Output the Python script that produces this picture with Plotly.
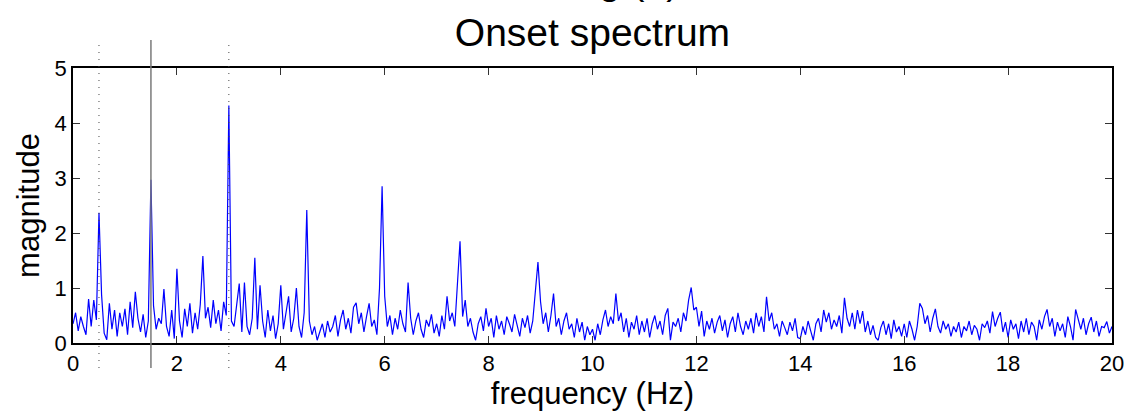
import plotly.graph_objects as go

# ---- data ----
freq_step = 0.05
magnitude = [
    # 0.00 - 0.95 Hz
    0.35, 0.55, 0.22, 0.48, 0.30, 0.15, 0.80, 0.30, 0.78, 0.42, 2.37, 0.88, 0.18, 0.06, 0.72, 0.25, 0.60, 0.12, 0.55, 0.30,
    # 1.00 - 1.95
    0.62, 0.15, 0.75, 0.28, 0.93, 0.45, 0.20, 0.52, 0.10, 0.40, 2.97, 0.68, 0.25, 0.45, 0.35, 0.98, 0.30, 0.12, 0.60, 0.08,
    # 2.00 - 2.95
    1.35, 0.40, 0.10, 0.62, 0.30, 0.72, 0.18, 0.55, 0.25, 0.70, 1.58, 0.45, 0.65, 0.28, 0.78, 0.35, 0.60, 0.22, 0.75, 0.50,
    # 3.00 - 3.95
    4.32, 0.40, 0.30, 0.65, 1.08, 0.20, 1.10, 0.30, 0.15, 0.45, 1.55, 0.25, 1.05, 0.40, 0.10, 0.60, 0.22, 0.50, 0.08, 0.35,
    # 4.00 - 4.95
    1.05, 0.25, 0.55, 0.85, 0.20, 0.45, 1.00, 0.30, 0.10, 0.55, 2.42, 0.40, 0.15, 0.30, 0.05, 0.22, 0.35, 0.10, 0.40, 0.20,
    # 5.00 - 5.95
    0.30, 0.50, 0.12, 0.42, 0.60, 0.25, 0.45, 0.18, 0.65, 0.73, 0.35, 0.55, 0.20, 0.48, 0.72, 0.30, 0.42, 0.15, 1.00, 2.85,
    # 6.00 - 6.95
    0.85, 0.30, 0.50, 0.15, 0.45, 0.25, 0.60, 0.35, 0.20, 1.10, 0.45, 0.15, 0.40, 0.55, 0.25, 0.10, 0.42, 0.30, 0.52, 0.18,
    # 7.00 - 7.95
    0.35, 0.12, 0.50, 0.25, 0.85, 0.40, 0.55, 0.30, 1.10, 1.85, 0.48, 0.78, 0.30, 0.45, 0.20, 0.05, 0.35, 0.48, 0.22, 0.63,
    # 8.00 - 8.95
    0.30, 0.45, 0.10, 0.50, 0.25, 0.40, 0.15, 0.48, 0.35, 0.20, 0.52, 0.30, 0.12, 0.45, 0.28, 0.50, 0.18, 0.40, 0.96, 1.47,
    # 9.00 - 9.95
    0.75, 0.35, 0.55, 0.20, 0.50, 0.90, 0.30, 0.45, 0.15, 0.40, 0.55, 0.25, 0.35, 0.10, 0.45, 0.20, 0.38, 0.05, 0.30, 0.15,
    # 10.00 - 10.95
    0.25, 0.05, 0.35, 0.15, 0.42, 0.60, 0.30, 0.48, 0.35, 0.90, 0.40, 0.55, 0.20, 0.45, 0.10, 0.38, 0.25, 0.50, 0.15, 0.40,
    # 11.00 - 11.95
    0.20, 0.45, 0.10, 0.35, 0.50, 0.25, 0.40, 0.15, 0.50, 0.63, 0.05, 0.38, 0.30, 0.45, 0.20, 0.55, 0.40, 0.78, 1.01, 0.60,
    # 12.00 - 12.95
    0.65, 0.30, 0.58, 0.12, 0.40, 0.25, 0.45, 0.18, 0.38, 0.50, 0.22, 0.42, 0.10, 0.35, 0.48, 0.20, 0.55, 0.30, 0.15, 0.40,
    # 13.00 - 13.95
    0.25, 0.45, 0.18, 0.55, 0.30, 0.48, 0.20, 0.84, 0.40, 0.55, 0.25, 0.35, 0.12, 0.40, 0.28, 0.15, 0.38, 0.22, 0.45, 0.10,
    # 14.00 - 14.95
    0.08, 0.30, 0.15, 0.40, 0.22, 0.05, 0.35, 0.45, 0.20, 0.60, 0.38, 0.55, 0.25, 0.42, 0.30, 0.50, 0.18, 0.82, 0.45, 0.30,
    # 15.00 - 15.95
    0.55, 0.25, 0.60, 0.35, 0.58, 0.20, 0.40, 0.15, 0.32, 0.10, 0.05, 0.28, 0.40, 0.15, 0.35, 0.08, 0.42, 0.20, 0.30, 0.12,
    # 16.00 - 16.95
    0.35, 0.10, 0.40, 0.25, 0.05, 0.30, 0.72, 0.63, 0.35, 0.50, 0.20, 0.45, 0.62, 0.30, 0.18, 0.40, 0.25, 0.35, 0.12, 0.30,
    # 17.00 - 17.95
    0.20, 0.38, 0.10, 0.30, 0.22, 0.40, 0.15, 0.32, 0.25, 0.05, 0.35, 0.28, 0.40, 0.18, 0.57, 0.30, 0.45, 0.56, 0.20, 0.38,
    # 18.00 - 18.95
    0.10, 0.42, 0.25, 0.35, 0.08, 0.40, 0.20, 0.45, 0.15, 0.38, 0.30, 0.05, 0.42, 0.25, 0.48, 0.61, 0.30, 0.45, 0.12, 0.38,
    # 19.00 - 20.00
    0.22, 0.35, 0.10, 0.48, 0.30, 0.05, 0.61, 0.40, 0.25, 0.45, 0.15, 0.35, 0.47, 0.20, 0.40, 0.12, 0.30, 0.28, 0.39, 0.18, 0.30,
]
frequency = [round(i * freq_step, 2) for i in range(len(magnitude))]

marker_freqs = [0.5, 1.5, 3.0]
marker_styles = ["dot", "solid", "dot"]

x_ticks = [0, 2, 4, 6, 8, 10, 12, 14, 16, 18, 20]
y_ticks = [0, 1, 2, 3, 4, 5]

FONT = "Liberation Sans, Arial, Helvetica, sans-serif"

fig = go.Figure()
fig.add_trace(go.Scatter(
    x=frequency, y=magnitude, mode="lines",
    line=dict(color="#0000FF", width=1.2),
    showlegend=False, hoverinfo="skip",
))

for f, st in zip(marker_freqs, marker_styles):
    if st == "solid":
        ln = dict(color="#7a7a7a", width=1.5)
    else:
        ln = dict(color="#444444", width=1, dash="1px,6px")
    fig.add_shape(type="line", xref="x", yref="paper", x0=f, x1=f,
                  y0=-0.091, y1=1.102, line=ln, layer="above")

fig.update_layout(
    width=1127, height=411,
    margin=dict(l=73, r=15, t=68, b=68, autoexpand=False),
    paper_bgcolor="white", plot_bgcolor="white",
    font=dict(family=FONT, color="black"),
    title=dict(text="Onset spectrum", x=0.5257, xanchor="center",
               y=1 - 32 / 411, yanchor="middle",
               font=dict(size=39, family=FONT, color="black")),
    xaxis=dict(range=[0, 20], tickvals=x_ticks, ticks="inside", ticklen=7,
               tickwidth=1, tickcolor="#333", showline=True, linecolor="black",
               linewidth=1.5, mirror="ticks", showgrid=False, zeroline=False,
               automargin=False,
               tickfont=dict(size=22, family=FONT),
               title=dict(text="frequency (Hz)", font=dict(size=31, family=FONT),
                          standoff=8)),
    yaxis=dict(range=[0, 5], tickvals=y_ticks, ticks="inside", ticklen=7,
               tickwidth=1, tickcolor="#333", showline=True, linecolor="black",
               linewidth=1.5, mirror="ticks", showgrid=False, zeroline=False,
               automargin=False,
               tickfont=dict(size=22, family=FONT),
               title=dict(text="magnitude", font=dict(size=31, family=FONT),
                          standoff=6)),
)

# cut-off fragment of the panel title above (only its descenders show)
fig.add_annotation(text="g (b)", xref="paper", yref="paper",
                   x=0.545, y=1 + (68 - 4) / 275, xanchor="center", yanchor="bottom",
                   showarrow=False, font=dict(size=39, family=FONT, color="black"))

fig.write_html("out.html")
